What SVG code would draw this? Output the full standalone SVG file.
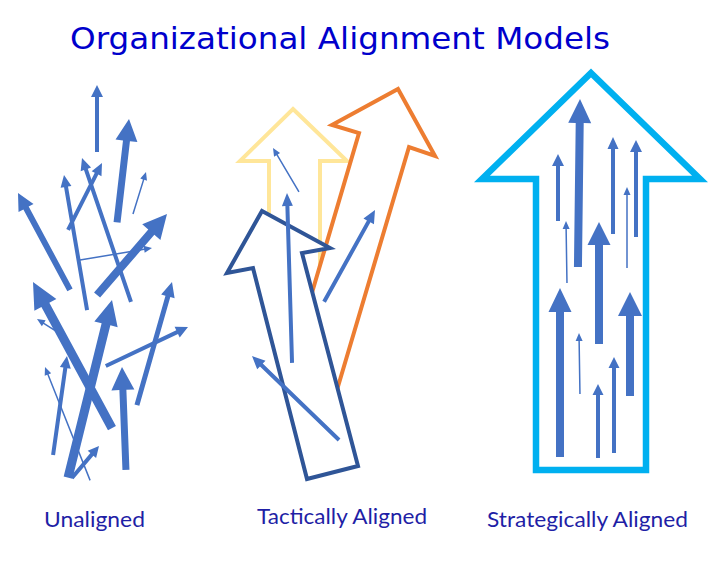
<svg xmlns="http://www.w3.org/2000/svg" width="728" height="573" viewBox="0 0 728 573">
<style>
.a{fill:#4472c4}
.title{font-family:"DejaVu Sans","Liberation Sans",sans-serif;font-size:31px;fill:#0000cc}
.lbl{font-family:Lato,"Open Sans","Liberation Sans",sans-serif;font-size:22px;fill:#1f1fa6}
.ol{fill:#fff;stroke-width:4;stroke-linejoin:miter}
</style>
<rect width="728" height="573" fill="#fff"/>
<text class="title" x="70" y="49" textLength="540" lengthAdjust="spacingAndGlyphs">Organizational Alignment Models</text>

<g id="unaligned">
<path class="a" transform="translate(97,85)" d="M0,0L6,12H2V67H-2V12H-6Z"/>
<path class="a" transform="translate(129,119) rotate(6.6)" d="M0,0L11,22H3.5V104H-3.5V22H-11Z"/>
<path class="a" transform="translate(146,172) rotate(17.2)" d="M0,0L3.5,8H0.75V44H-0.75V8H-3.5Z"/>
<path class="a" transform="translate(18,193) rotate(-28.2)" d="M0,0L8.5,17H3V110H-3V17H-8.5Z"/>
<path class="a" transform="translate(64,175) rotate(-9.7)" d="M0,0L5.5,12H2V137H-2V12H-5.5Z"/>
<path class="a" transform="translate(82,158) rotate(-18.8)" d="M0,0L5.5,12H2V152H-2V12H-5.5Z"/>
<path class="a" transform="translate(102,163) rotate(26.9)" d="M0,0L5.5,12H2V75H-2V12H-5.5Z"/>
<path class="a" transform="translate(152,248) rotate(80.5)" d="M0,0L3.5,8H0.75V73H-0.75V8H-3.5Z"/>
<path class="a" transform="translate(167,214) rotate(40.8)" d="M0,0L12,24H4V107H-4V24H-12Z"/>
<path class="a" transform="translate(33,282) rotate(-28.4)" d="M0,0L12.5,26H4.5V166H-4.5V26H-12.5Z"/>
<path class="a" transform="translate(112,300) rotate(13.9)" d="M0,0L12,25H4.5V183H-4.5V25H-12Z"/>
<path class="a" transform="translate(37,319) rotate(-57.4)" d="M0,0L3.5,8H0.75V30H-0.75V8H-3.5Z"/>
<path class="a" transform="translate(172,282) rotate(15.9)" d="M0,0L7,15H2.5V128H-2.5V15H-7Z"/>
<path class="a" transform="translate(188,327) rotate(64.6)" d="M0,0L6,12H2V91H-2V12H-6Z"/>
<path class="a" transform="translate(122,367) rotate(-2.2)" d="M0,0L11.5,23H3.5V103H-3.5V23H-11.5Z"/>
<path class="a" transform="translate(67,356) rotate(8)" d="M0,0L5.5,12H2V100H-2V12H-5.5Z"/>
<path class="a" transform="translate(45,367) rotate(-21.7)" d="M0,0L3.5,8H0.75V122H-0.75V8H-3.5Z"/>
<path class="a" transform="translate(99,446) rotate(40.2)" d="M0,0L5.5,11H2V42H-2V11H-5.5Z"/>
</g>

<g id="tactical">
<polygon class="ol" stroke="#ffe699" points="293,109 347,161 320,161 320,300 269,300 269,161 240,161"/>
<polygon class="ol" stroke="#ed7d31" points="398,89 435,156 409,147 334,400 301,330 359,133 332,125"/>
<polygon class="ol" stroke="#2f5597" points="262,211 330,248 302,253 358,466 307,479 253,268 227,273"/>
<path class="a" transform="translate(273,148) rotate(-30.6)" d="M0,0L3.5,8H0.75V51H-0.75V8H-3.5Z"/>
<path class="a" transform="translate(287,193) rotate(-1.7)" d="M0,0L5.5,13H2V170H-2V13H-5.5Z"/>
<path class="a" transform="translate(375,210) rotate(29)" d="M0,0L6,13H2V105H-2V13H-6Z"/>
<path class="a" transform="translate(252,356) rotate(-46)" d="M0,0L6,13H2V121H-2V13H-6Z"/>
</g>

<g id="strategic">
<polygon fill="#fff" stroke="#00b0f0" stroke-width="6.5" points="591,73 700,179 646,179 646,470 536,470 536,179 482,179"/>
<path class="a" transform="translate(580,99) rotate(0.7)" d="M0,0L11.5,24H4V168H-4V24H-11.5Z"/>
<path class="a" transform="translate(558,154)" d="M0,0L6,12H2V67H-2V12H-6Z"/>
<path class="a" transform="translate(566,221) rotate(-0.9)" d="M0,0L3.5,8H0.75V62H-0.75V8H-3.5Z"/>
<path class="a" transform="translate(613,137)" d="M0,0L5.5,12H2V97H-2V12H-5.5Z"/>
<path class="a" transform="translate(636,140)" d="M0,0L6,12H2V97H-2V12H-6Z"/>
<path class="a" transform="translate(627,187)" d="M0,0L3.5,8H0.75V81H-0.75V8H-3.5Z"/>
<path class="a" transform="translate(599,222)" d="M0,0L11.5,23H4V122H-4V23H-11.5Z"/>
<path class="a" transform="translate(560,288)" d="M0,0L11.5,24H4V169H-4V24H-11.5Z"/>
<path class="a" transform="translate(579,333) rotate(-0.9)" d="M0,0L3.5,8H0.75V61H-0.75V8H-3.5Z"/>
<path class="a" transform="translate(630,292)" d="M0,0L12,24H4V104H-4V24H-12Z"/>
<path class="a" transform="translate(614,357)" d="M0,0L5.5,11H2V96H-2V11H-5.5Z"/>
<path class="a" transform="translate(598,384)" d="M0,0L5.5,11H2V74H-2V11H-5.5Z"/>
</g>

<g id="labels">
<text class="lbl" x="44" y="527" textLength="101" lengthAdjust="spacingAndGlyphs">Unaligned</text>
<text class="lbl" x="257" y="524" textLength="170" lengthAdjust="spacingAndGlyphs">Tactically Aligned</text>
<text class="lbl" x="487" y="527" textLength="201" lengthAdjust="spacingAndGlyphs">Strategically Aligned</text>
</g>
</svg>
